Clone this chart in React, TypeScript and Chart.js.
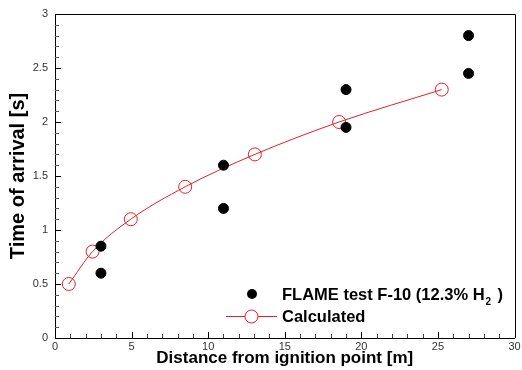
import React, { useEffect, useRef } from "react";
import { Chart, registerables } from "chart.js";

Chart.register(...registerables);

const flameX = [3, 3, 11, 11, 19, 19, 27, 27];
const flameY = [0.85, 0.6, 1.6, 1.2, 2.3, 1.95, 2.8, 2.45];
const calcX = [0.9, 2.45, 4.95, 8.5, 13.05, 18.55, 25.25];
const calcY = [0.5, 0.8, 1.1, 1.4, 1.7, 2.0, 2.3];

const xTitle = "Distance from ignition point [m]";
const yTitle = "Time of arrival [s]";
const legendFlame = "FLAME test F-10 (12.3% H";
const legendCalc = "Calculated";

const FONT = "'Liberation Sans', Arial, sans-serif";
const RED = "rgb(232,30,36)";

const framePlugin = {
  id: "frame",
  afterDraw(chart: any) {
    const { ctx, chartArea } = chart;
    const xs = chart.scales.x;
    const ys = chart.scales.y;
    const { left, right, top, bottom } = chartArea;
    ctx.save();
    ctx.strokeStyle = "#000";
    ctx.lineWidth = 1;
    ctx.beginPath();
    ctx.moveTo(left, Math.round(top) + 0.5);
    ctx.lineTo(Math.round(right) + 0.5, Math.round(top) + 0.5);
    ctx.lineTo(Math.round(right) + 0.5, bottom);
    ctx.stroke();
    for (let v = 0; v <= 30; v++) {
      const px = Math.round(xs.getPixelForValue(v)) + 0.5;
      const len = v % 5 === 0 ? 6 : 4;
      ctx.strokeStyle = v % 5 === 0 ? "#000" : "#444";
      ctx.beginPath();
      ctx.moveTo(px, bottom);
      ctx.lineTo(px, bottom - len);
      ctx.stroke();
    }
    for (let i = 0; i <= 30; i++) {
      const v = i / 10;
      const py = Math.round(ys.getPixelForValue(v)) + 0.5;
      const len = i % 5 === 0 ? 6 : 4;
      ctx.strokeStyle = i % 5 === 0 ? "#000" : "#555";
      ctx.beginPath();
      ctx.moveTo(left, py);
      ctx.lineTo(left + len, py);
      ctx.stroke();
    }
    // legend
    ctx.fillStyle = "#000";
    ctx.beginPath();
    ctx.arc(252, 294, 5, 0, Math.PI * 2);
    ctx.fill();
    ctx.font = `bold 16.5px ${FONT}`;
    ctx.textBaseline = "alphabetic";
    ctx.textAlign = "left";
    ctx.fillText(legendFlame, 282, 300);
    const w = ctx.measureText(legendFlame).width;
    ctx.font = `bold 10px ${FONT}`;
    ctx.fillText("2", 282 + w + 1, 304.5);
    ctx.font = `bold 16.5px ${FONT}`;
    ctx.fillText(")", 282 + w + 13, 300);
    ctx.strokeStyle = RED;
    ctx.lineWidth = 1;
    ctx.beginPath();
    ctx.moveTo(226, 316.5);
    ctx.lineTo(277, 316.5);
    ctx.stroke();
    ctx.fillStyle = "#fff";
    ctx.beginPath();
    ctx.arc(251.5, 316.5, 6.5, 0, Math.PI * 2);
    ctx.fill();
    ctx.stroke();
    ctx.fillStyle = "#000";
    ctx.fillText(legendCalc, 282, 322);
    ctx.restore();
  },
};

export default function App() {
  const ref = useRef<HTMLCanvasElement>(null);
  useEffect(() => {
    if (!ref.current) return;
    const chart = new Chart(ref.current, {
      type: "scatter",
      data: {
        datasets: [
          {
            label: "FLAME",
            data: flameX.map((x, i) => ({ x, y: flameY[i] })),
            backgroundColor: "#000",
            borderColor: "#000",
            pointRadius: 5,
            showLine: false,
          },
          {
            label: "Calculated",
            data: calcX.map((x, i) => ({ x, y: calcY[i] })),
            borderColor: RED,
            backgroundColor: "rgba(0,0,0,0)",
            borderWidth: 1,
            pointRadius: 6.5,
            pointBorderWidth: 1,
            pointBorderColor: RED,
            pointBackgroundColor: "rgba(0,0,0,0)",
            showLine: true,
            cubicInterpolationMode: "monotone",
          } as any,
        ],
      },
      options: {
        animation: false,
        responsive: false,
        devicePixelRatio: 1,
        layout: { padding: { top: 14, right: 5, left: 0, bottom: 0 } },
        plugins: { legend: { display: false }, tooltip: { enabled: false } },
        scales: {
          x: {
            type: "linear",
            min: 0,
            max: 30,
            ticks: {
              stepSize: 5,
              color: "#333",
              font: { family: FONT, size: 11 },
              padding: 2,
              maxRotation: 0,
              callback: (v: any) => String(v),
            },
            grid: { display: false, drawTicks: false },
            border: { display: true, color: "#000", width: 1 },
            title: {
              display: true,
              text: xTitle,
              color: "#000",
              font: { family: FONT, size: 17, weight: "bold" },
              padding: { top: 0, bottom: 1 },
            },
            afterFit(scale: any) {
              scale.height = 32;
              scale.paddingLeft = 0;
              scale.paddingRight = 0;
            },
          },
          y: {
            type: "linear",
            min: 0,
            max: 3,
            ticks: {
              stepSize: 0.5,
              color: "#333",
              font: { family: FONT, size: 11 },
              padding: 7,
              callback: (v: any) => String(v),
            },
            grid: { display: false, drawTicks: false },
            border: { display: true, color: "#000", width: 1 },
            title: {
              display: true,
              text: yTitle,
              color: "#000",
              font: { family: FONT, size: 20, weight: "bold" },
              padding: { top: 6, bottom: 0 },
            },
            afterFit(scale: any) {
              scale.width = 55;
              scale.paddingTop = 0;
              scale.paddingBottom = 0;
            },
          },
        },
      },
      plugins: [framePlugin],
    });
    return () => chart.destroy();
  }, []);
  return (
    <div style={{ position: "fixed", left: 0, top: 0, width: 522, height: 370, background: "#fff" }}>
      <canvas ref={ref} width={522} height={370} style={{ display: "block" }} />
    </div>
  );
}
